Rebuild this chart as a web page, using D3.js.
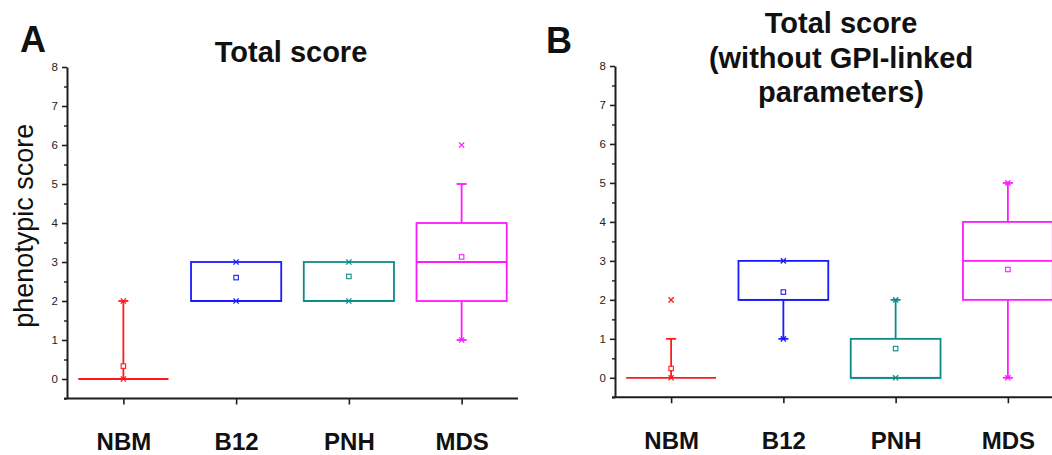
<!DOCTYPE html>
<html>
<head>
<meta charset="utf-8">
<script src="https://cdn.jsdelivr.net/npm/d3@7"></script>
<style>
  html, body { margin: 0; padding: 0; background: #fff; }
  svg { display: block; font-family: "Liberation Sans", Arial, sans-serif; }
</style>
</head>
<body>
<svg id="chart" width="1052" height="455"></svg>
<script>
// ---- data ----
const categories = ["NBM", "B12", "PNH", "MDS"];
const seriesColors = ["#ff1a1a", "#1a1aff", "#0f8a8a", "#ff1aff"];
const yTicks = [0, 1, 2, 3, 4, 5, 6, 7, 8];
const yMinorTicks = [-0.5, 0.5, 1.5, 2.5, 3.5, 4.5, 5.5, 6.5, 7.5];

// Panel A: Total score
const aQ1      = [0, 2, 2, 2];
const aMedian  = [0, 2, 2, 3];
const aQ3      = [0, 3, 3, 4];
const aWhiskLo = [0, 2, 2, 1];
const aWhiskHi = [2, 3, 3, 5];
const aMean    = [0.33, 2.6, 2.63, 3.13];
const aMin     = [0, 2, 2, 1];
const aMax     = [2, 3, 3, 6];

// Panel B: Total score without GPI-linked parameters
const bQ1      = [0, 2, 0, 2];
const bMedian  = [0, 2, 0, 3];
const bQ3      = [0, 3, 1, 4];
const bWhiskLo = [0, 1, 0, 0];
const bWhiskHi = [1, 3, 2, 5];
const bMean    = [0.24, 2.2, 0.75, 2.78];
const bMin     = [0, 1, 0, 0];
const bMax     = [2, 3, 2, 5];

const svg = d3.select("#chart");
const axisColor = "#1e1e1e";

function buildRows(q1, med, q3, wlo, whi, mean, mn, mx) {
  return categories.map((c, i) => ({
    cat: c, idx: i + 1, color: seriesColors[i],
    q1: q1[i], med: med[i], q3: q3[i], wlo: wlo[i], whi: whi[i],
    mean: mean[i], min: mn[i], max: mx[i]
  }));
}

function drawPanel(opts) {
  const { left, top, bottom, right, rows, letter, letterPos, titleLines, titleX, titleY, ylabel } = opts;
  const g = svg.append("g");

  const x = d3.scaleLinear().domain([0.5, 4.5]).range([left, right]);
  const y = d3.scaleLinear().domain([-0.5, 8]).range([bottom, top]);

  // y axis minor ticks
  const yMinor = g.append("g").attr("transform", `translate(${left},0)`)
    .call(d3.axisLeft(y).tickValues(yMinorTicks).tickSize(3).tickFormat(""));
  yMinor.select(".domain").remove();
  yMinor.selectAll("line").attr("stroke", axisColor).attr("stroke-width", 1.4);

  // y axis major
  const yAx = g.append("g").attr("transform", `translate(${left},0)`)
    .call(d3.axisLeft(y).tickValues(yTicks).tickSize(5).tickSizeOuter(0).tickPadding(4));
  yAx.select(".domain").attr("stroke", axisColor).attr("stroke-width", 2);
  yAx.selectAll(".tick line").attr("stroke", axisColor).attr("stroke-width", 1.6);
  yAx.selectAll("text").attr("font-size", 11.5).attr("fill", "#222")
    .attr("font-family", "Liberation Sans, Arial, sans-serif");

  // x axis
  const xAx = g.append("g").attr("transform", `translate(0,${bottom})`)
    .call(d3.axisBottom(x).tickValues(rows.map(d => d.idx)).tickSize(6).tickSizeOuter(0)
      .tickPadding(28.5).tickFormat((d, i) => categories[i]));
  xAx.select(".domain").attr("stroke", axisColor).attr("stroke-width", 2)
    .attr("d", `M${left - 3},0H${right}`);
  xAx.selectAll(".tick line").attr("stroke", axisColor).attr("stroke-width", 1.6);
  xAx.selectAll("text").attr("font-size", 24).attr("font-weight", "bold").attr("fill", "#111")
    .attr("font-family", "Liberation Sans, Arial, sans-serif");

  const bw = (x(2) - x(1)) * 0.8;
  const capW = 10;
  const sw = 1.8;

  const boxes = g.append("g").selectAll("g").data(rows).join("g");

  boxes.each(function(d) {
    const sel = d3.select(this);
    const cx = x(d.idx);
    if (d.whi > d.q3) {
      sel.append("line").attr("x1", cx).attr("x2", cx).attr("y1", y(d.q3)).attr("y2", y(d.whi))
        .attr("stroke", d.color).attr("stroke-width", sw);
      sel.append("line").attr("x1", cx - capW / 2).attr("x2", cx + capW / 2)
        .attr("y1", y(d.whi)).attr("y2", y(d.whi)).attr("stroke", d.color).attr("stroke-width", sw);
    }
    if (d.wlo < d.q1) {
      sel.append("line").attr("x1", cx).attr("x2", cx).attr("y1", y(d.q1)).attr("y2", y(d.wlo))
        .attr("stroke", d.color).attr("stroke-width", sw);
      sel.append("line").attr("x1", cx - capW / 2).attr("x2", cx + capW / 2)
        .attr("y1", y(d.wlo)).attr("y2", y(d.wlo)).attr("stroke", d.color).attr("stroke-width", sw);
    }
    // box
    sel.append("rect").attr("x", cx - bw / 2).attr("width", bw)
      .attr("y", y(d.q3)).attr("height", Math.max(0, y(d.q1) - y(d.q3)))
      .attr("fill", "none").attr("stroke", d.color).attr("stroke-width", sw);
    // median
    sel.append("line").attr("x1", cx - bw / 2).attr("x2", cx + bw / 2)
      .attr("y1", y(d.med)).attr("y2", y(d.med)).attr("stroke", d.color).attr("stroke-width", sw);
    // mean square
    const s = 4.5;
    sel.append("rect").attr("x", cx - s / 2).attr("y", y(d.mean) - s / 2)
      .attr("width", s).attr("height", s).attr("fill", "#fff")
      .attr("stroke", d.color).attr("stroke-width", 1.1);
    // min / max crosses
    [d.min, d.max].forEach(v => {
      const cy = y(v), r = 2.6;
      sel.append("path")
        .attr("d", `M${cx - r},${cy - r}L${cx + r},${cy + r}M${cx - r},${cy + r}L${cx + r},${cy - r}`)
        .attr("stroke", d.color).attr("stroke-width", 1.3).attr("fill", "none");
    });
  });

  // panel letter
  svg.append("text").attr("x", letterPos[0]).attr("y", letterPos[1])
    .attr("font-size", 36).attr("font-weight", "bold").attr("fill", "#111").text(letter);

  // title
  const t = svg.append("text").attr("x", titleX).attr("y", titleY)
    .attr("text-anchor", "middle").attr("font-size", 29).attr("font-weight", "bold").attr("fill", "#111");
  titleLines.forEach((line, i) => {
    t.append("tspan").attr("x", titleX).attr("dy", i === 0 ? 0 : 34.5).text(line);
  });

  if (ylabel) {
    svg.append("text").attr("transform", `translate(33,${(top + bottom) / 2 - 7}) rotate(-90)`)
      .attr("text-anchor", "middle").attr("font-size", 27).attr("fill", "#111").text(ylabel);
  }
}

drawPanel({
  left: 67, right: 518, top: 67, bottom: 398.5,
  rows: buildRows(aQ1, aMedian, aQ3, aWhiskLo, aWhiskHi, aMean, aMin, aMax),
  letter: "A", letterPos: [20, 52],
  titleLines: ["Total score"], titleX: 291, titleY: 62,
  ylabel: "phenotypic score"
});

drawPanel({
  left: 615, right: 1064, top: 66, bottom: 397.3,
  rows: buildRows(bQ1, bMedian, bQ3, bWhiskLo, bWhiskHi, bMean, bMin, bMax),
  letter: "B", letterPos: [546, 53],
  titleLines: ["Total score", "(without GPI-linked", "parameters)"], titleX: 841, titleY: 33,
  ylabel: null
});
</script>
</body>
</html>
